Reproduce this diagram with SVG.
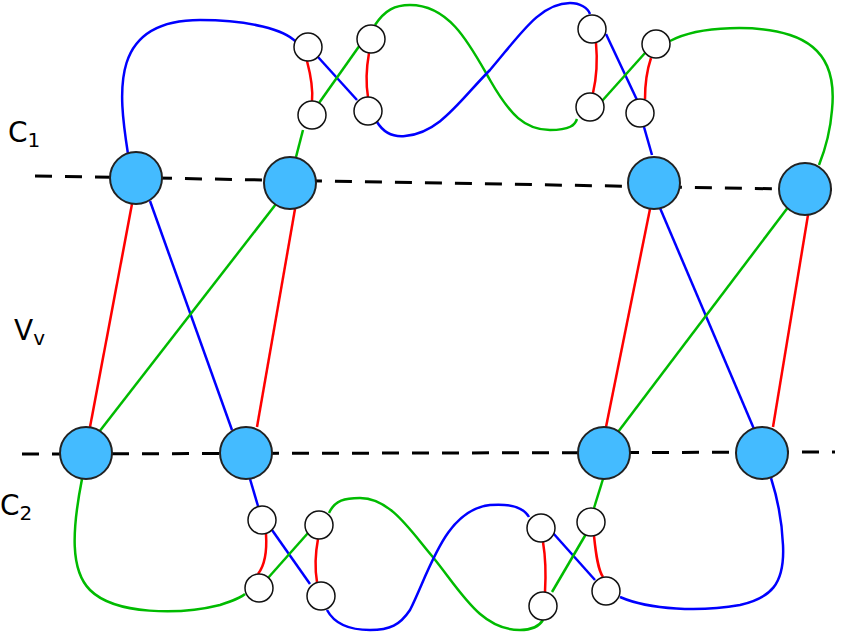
<svg xmlns="http://www.w3.org/2000/svg" width="843" height="635" viewBox="0 0 843 635">
<style>
.b{fill:#44bbff;stroke:#222;stroke-width:2}
.s{fill:#fff;stroke:#111;stroke-width:1.5}
path,line{fill:none;stroke-width:2.5}
.r{stroke:#f00}.bl{stroke:#00f}.g{stroke:#0b0}
.d{stroke:#000;stroke-width:3;stroke-dasharray:17,13}
text{font-family:"DejaVu Sans",sans-serif;font-size:28px;fill:#000}
</style>
<g id="axes">
<line class="d" x1="35" y1="176" x2="843" y2="190"/>
<line class="d" x1="22" y1="454" x2="835" y2="452"/>
</g>
<g id="connectors">
<path class="bl" d="M128,154 C118,90 110,20 200,20 C250,20 285,30 296,42"/>
<path class="r" d="M307,61 C312,80 313,90 312,101"/>
<line class="bl" x1="318" y1="57" x2="357" y2="100"/>
<line class="g" x1="319" y1="103" x2="360" y2="45"/>
<path class="r" d="M369,53 C366,70 366,85 368,97"/>
<path class="g" d="M303,130 L296,157"/>
<path class="g" d="M375,25 C385,10 395,5 410,5 C450,5 470,45 490,80 C510,115 525,130 550,130 C570,130 575,125 577,119"/>
<path class="bl" d="M377,122 C385,135 395,137 405,136 C440,133 460,100 490,70 C520,35 540,3 570,3 C580,3 588,8 590,14"/>
<path class="r" d="M596,43 C598,65 596,80 593,93"/>
<line class="bl" x1="606" y1="34" x2="637" y2="100"/>
<line class="g" x1="602" y1="101" x2="645" y2="53"/>
<path class="r" d="M651,58 C647,70 645,85 645,99"/>
<path class="bl" d="M644,127 L652,155"/>
<path class="g" d="M670,41 C700,25 760,25 790,35 C830,48 835,80 832,110 C830,135 825,150 819,165"/>
<line class="r" x1="132" y1="204" x2="90" y2="427"/>
<line class="bl" x1="150" y1="201" x2="232" y2="430"/>
<line class="g" x1="276" y1="204" x2="99" y2="432"/>
<line class="r" x1="295" y1="209" x2="257" y2="427"/>
<line class="r" x1="650" y1="209" x2="606" y2="427"/>
<line class="bl" x1="660" y1="208" x2="754" y2="429"/>
<line class="g" x1="789" y1="206" x2="618" y2="432"/>
<line class="r" x1="808" y1="215" x2="773" y2="427"/>
<path class="g" d="M82,479 C72,530 70,570 90,590 C115,615 180,615 220,605 C235,600 242,597 245,594"/>
<path class="bl" d="M250,479 L258,506"/>
<path class="r" d="M266,534 C267,550 265,565 258,574"/>
<line class="bl" x1="272" y1="530" x2="310" y2="584"/>
<line class="g" x1="268" y1="578" x2="308" y2="533"/>
<path class="r" d="M318,539 C315,555 315,570 317,582"/>
<path class="g" d="M329,513 C335,500 345,498 360,498 C390,498 410,530 432,556 C460,590 480,630 520,630 C535,630 540,625 543,620"/>
<path class="bl" d="M327,610 C335,625 350,630 370,630 C390,630 400,625 410,610 C430,570 445,510 490,505 C515,503 525,510 529,517"/>
<path class="r" d="M543,542 C546,560 546,575 545,592"/>
<line class="bl" x1="553" y1="533" x2="595" y2="580"/>
<line class="g" x1="552" y1="592" x2="586" y2="534"/>
<path class="r" d="M594,536 C596,555 598,570 603,577"/>
<path class="g" d="M594,508 L603,479"/>
<path class="bl" d="M620,597 C650,610 700,612 740,605 C770,598 785,585 783,545 C782,520 778,500 771,478"/>
</g>
<g id="top-nodes">
<circle id="t1" class="b" cx="136" cy="178" r="26"/>
<circle id="t2" class="b" cx="290" cy="183" r="26"/>
<circle id="t3" class="b" cx="654" cy="183" r="26"/>
<circle id="t4" class="b" cx="805" cy="189" r="26"/>
</g>
<g id="bottom-nodes">
<circle id="b1" class="b" cx="86" cy="453" r="26"/>
<circle id="b2" class="b" cx="246" cy="453" r="26"/>
<circle id="b3" class="b" cx="604" cy="453" r="26"/>
<circle id="b4" class="b" cx="762" cy="453" r="26"/>
</g>
<g id="small-nodes">
<circle id="a" class="s" cx="308" cy="47" r="14"/>
<circle id="bb" class="s" cx="312" cy="115" r="14"/>
<circle id="c" class="s" cx="371" cy="39" r="14"/>
<circle id="dd" class="s" cx="368" cy="111" r="14"/>
<circle id="e" class="s" cx="592" cy="29" r="14"/>
<circle id="f" class="s" cx="590" cy="107" r="14"/>
<circle id="gg" class="s" cx="656" cy="44" r="14"/>
<circle id="h" class="s" cx="640" cy="113" r="14"/>
<circle id="i" class="s" cx="262" cy="520" r="14"/>
<circle id="j" class="s" cx="259" cy="588" r="14"/>
<circle id="k" class="s" cx="319" cy="525" r="14"/>
<circle id="l" class="s" cx="321" cy="596" r="14"/>
<circle id="m" class="s" cx="541" cy="528" r="14"/>
<circle id="n" class="s" cx="543" cy="606" r="14"/>
<circle id="o" class="s" cx="591" cy="522" r="14"/>
<circle id="p" class="s" cx="606" cy="591" r="14"/>
</g>
<g id="labels">
<text x="8" y="142">C<tspan font-size="20" dy="5">1</tspan></text>
<text x="14" y="340">V<tspan font-size="20" dy="5">v</tspan></text>
<text x="0" y="515">C<tspan font-size="20" dy="5">2</tspan></text>
</g>
</svg>
